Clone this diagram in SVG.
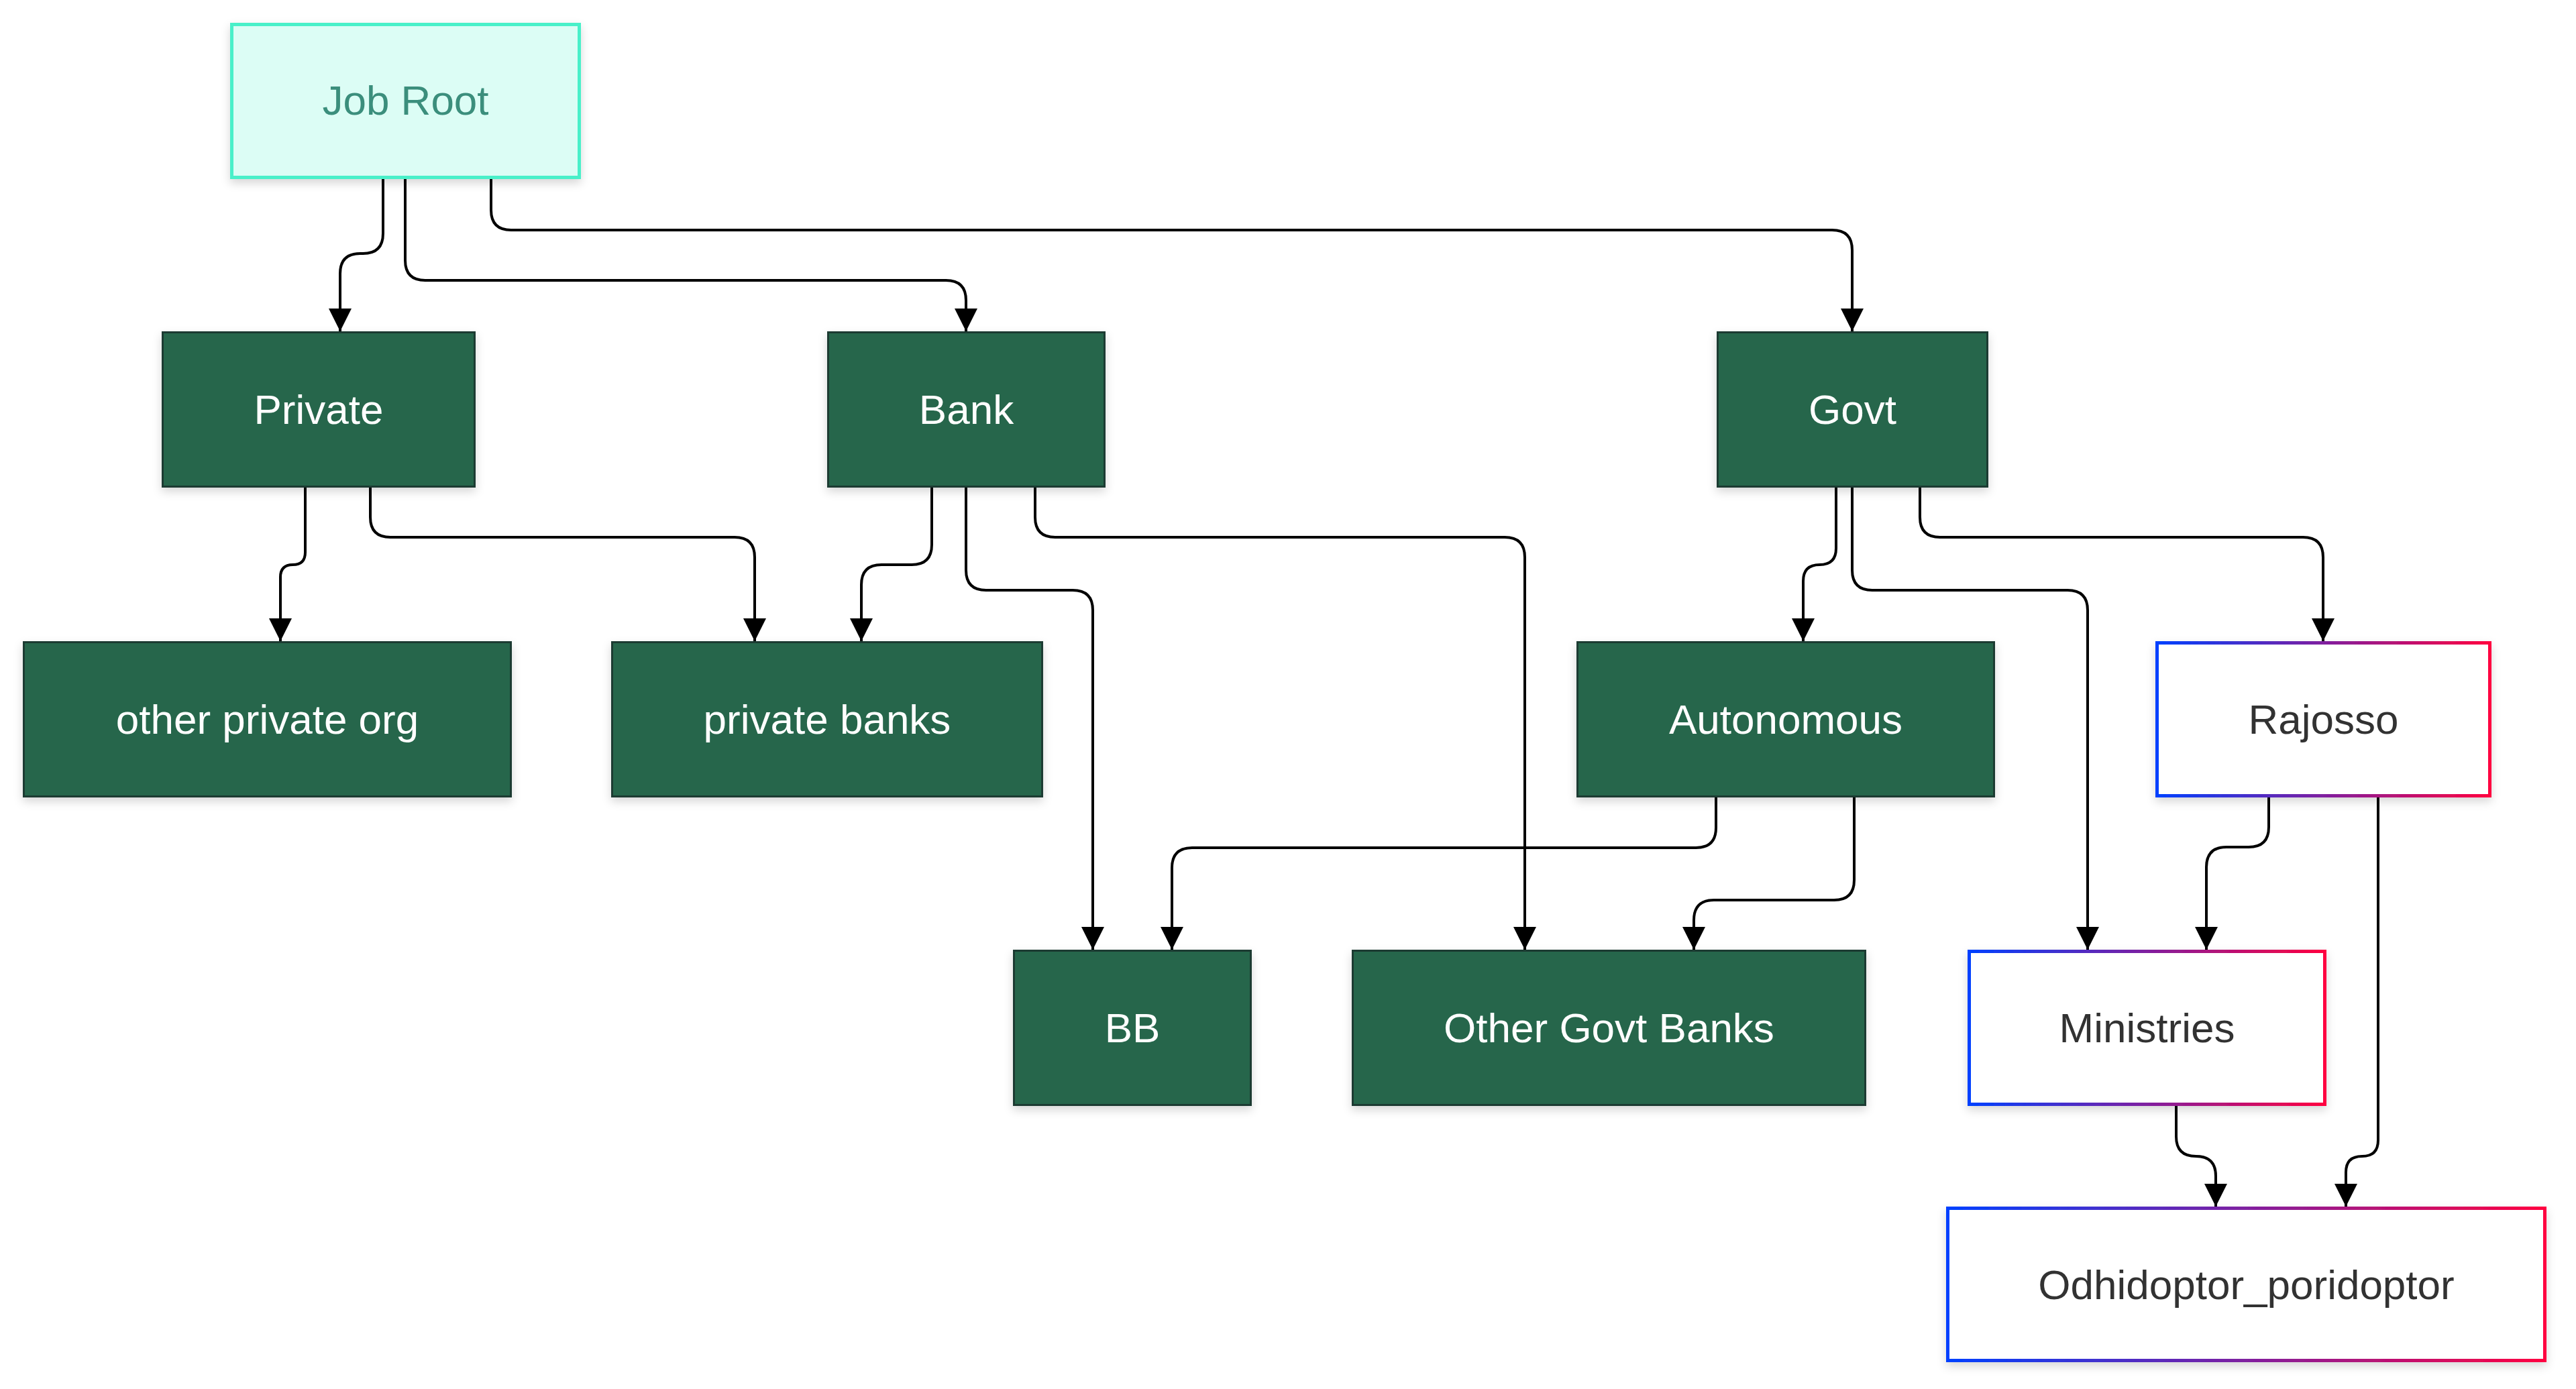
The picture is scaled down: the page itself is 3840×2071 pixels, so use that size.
<svg xmlns="http://www.w3.org/2000/svg" width="3840" height="2071" viewBox="0 0 3840 2071">
<defs>
<style>
.lbl{font-family:"Liberation Sans",Arial,Helvetica,sans-serif;font-size:62px;text-anchor:middle}
.green rect{fill:#26664b;stroke:#1f3a30;stroke-width:3}
.green text{fill:#ffffff}
.grad rect{fill:#ffffff;stroke:url(#bord);stroke-width:5}
.grad text{fill:#333333}
.root rect{fill:#dcfdf5;stroke:#48f0c9;stroke-width:5}
.root text{fill:#3a8e7b}
.edge{fill:none;stroke:#000000;stroke-width:4;marker-end:url(#arr)}
</style>
<linearGradient id="bord" x1="0" y1="0" x2="1" y2="0">
<stop offset="0" stop-color="#0040ff"/>
<stop offset="1" stop-color="#ff0040"/>
</linearGradient>
<filter id="sh" x="-10%" y="-10%" width="120%" height="130%">
<feDropShadow dx="0" dy="6" stdDeviation="7" flood-color="#000000" flood-opacity="0.16"/>
</filter>
<marker id="arr" markerUnits="userSpaceOnUse" markerWidth="34" markerHeight="34" viewBox="0 0 10 10" refX="10" refY="5" orient="auto">
<path d="M0,0 L10,5 L0,10 z" fill="#000000"/>
</marker>
</defs>
<rect x="0" y="0" width="3840" height="2071" fill="#ffffff"/>

<g id="connectors">
<path class="edge" d="M571 266 L571 348 Q571 378 541 378 L537 378 Q507 378 507 408 L507 494"/>
<path class="edge" d="M604 266 L604 388 Q604 418 634 418 L1410 418 Q1440 418 1440 448 L1440 494"/>
<path class="edge" d="M732 266 L732 313 Q732 343 762 343 L2731 343 Q2761 343 2761 373 L2761 494"/>
<path class="edge" d="M455 727 L455 823.5 Q455 842 436.5 842 Q418 842 418 860.5 L418 956"/>
<path class="edge" d="M552 727 L552 771 Q552 801 582 801 L1095 801 Q1125 801 1125 831 L1125 956"/>
<path class="edge" d="M1389 727 L1389 812 Q1389 842 1359 842 L1314 842 Q1284 842 1284 872 L1284 956"/>
<path class="edge" d="M1440 727 L1440 850 Q1440 880 1470 880 L1599 880 Q1629 880 1629 910 L1629 1416"/>
<path class="edge" d="M1543 727 L1543 771 Q1543 801 1573 801 L2243 801 Q2273 801 2273 831 L2273 1416"/>
<path class="edge" d="M2737 727 L2737 817.5 Q2737 842 2712.5 842 Q2688 842 2688 866.5 L2688 956"/>
<path class="edge" d="M2761 727 L2761 850 Q2761 880 2791 880 L3082 880 Q3112 880 3112 910 L3112 1416"/>
<path class="edge" d="M2862 727 L2862 771 Q2862 801 2892 801 L3433 801 Q3463 801 3463 831 L3463 956"/>
<path class="edge" d="M2558 1189 L2558 1234 Q2558 1264 2528 1264 L1777 1264 Q1747 1264 1747 1294 L1747 1416"/>
<path class="edge" d="M2764 1189 L2764 1312 Q2764 1342 2734 1342 L2555 1342 Q2525 1342 2525 1372 L2525 1416"/>
<path class="edge" d="M3382 1189 L3382 1233 Q3382 1263 3352 1263 L3319 1263 Q3289 1263 3289 1293 L3289 1416"/>
<path class="edge" d="M3545 1189 L3545 1700 Q3545 1724 3521 1724 Q3497 1724 3497 1748 L3497 1799"/>
<path class="edge" d="M3244 1649 L3244 1694.5 Q3244 1724 3273.5 1724 Q3303 1724 3303 1753.5 L3303 1799"/>
</g>

<g id="node-jobroot" class="root" filter="url(#sh)">
<rect x="345.5" y="36.5" width="518" height="228"/>
<text class="lbl" x="604.5" y="171">Job Root</text>
</g>

<g id="node-private" class="green" filter="url(#sh)">
<rect x="242.5" y="495.5" width="465" height="230"/>
<text class="lbl" x="475" y="631.5">Private</text>
</g>
<g id="node-bank" class="green" filter="url(#sh)">
<rect x="1234.5" y="495.5" width="412" height="230"/>
<text class="lbl" x="1440.5" y="631.5">Bank</text>
</g>
<g id="node-govt" class="green" filter="url(#sh)">
<rect x="2560.5" y="495.5" width="402" height="230"/>
<text class="lbl" x="2761.5" y="631.5">Govt</text>
</g>

<g id="node-otherprivate" class="green" filter="url(#sh)">
<rect x="35.5" y="957.5" width="726" height="230"/>
<text class="lbl" x="398.5" y="1093.5">other private org</text>
</g>
<g id="node-privatebanks" class="green" filter="url(#sh)">
<rect x="912.5" y="957.5" width="641" height="230"/>
<text class="lbl" x="1233" y="1093.5">private banks</text>
</g>
<g id="node-autonomous" class="green" filter="url(#sh)">
<rect x="2351.5" y="957.5" width="621" height="230"/>
<text class="lbl" x="2662" y="1093.5">Autonomous</text>
</g>
<g id="node-rajosso" class="grad" filter="url(#sh)">
<rect x="3215.5" y="958.5" width="496" height="228"/>
<text class="lbl" x="3463.5" y="1093.5">Rajosso</text>
</g>

<g id="node-bb" class="green" filter="url(#sh)">
<rect x="1511.5" y="1417.5" width="353" height="230"/>
<text class="lbl" x="1688" y="1553.5">BB</text>
</g>
<g id="node-othergovtbanks" class="green" filter="url(#sh)">
<rect x="2016.5" y="1417.5" width="764" height="230"/>
<text class="lbl" x="2398.5" y="1553.5">Other Govt Banks</text>
</g>
<g id="node-ministries" class="grad" filter="url(#sh)">
<rect x="2935.5" y="1418.5" width="530" height="228"/>
<text class="lbl" x="3200.5" y="1553.5">Ministries</text>
</g>

<g id="node-odhidoptor" class="grad" filter="url(#sh)">
<rect x="2903.5" y="1801.5" width="890" height="227"/>
<text class="lbl" x="3348.5" y="1936.5">Odhidoptor_poridoptor</text>
</g>
</svg>
